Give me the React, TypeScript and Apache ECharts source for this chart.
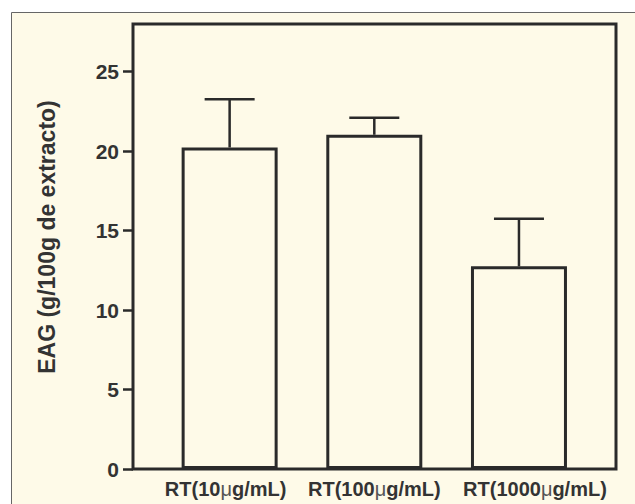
import React, { useEffect, useRef } from "react";
import * as echarts from "echarts";

const categories = ["RT(10μg/mL)", "RT(100μg/mL)", "RT(1000μg/mL)"];
const means = [20.23, 21.03, 12.75];
const sems = [3.04, 1.07, 2.99];
const yTicks = [0, 5, 10, 15, 20, 25];
const yName = "EAG (g/100g de extracto)";

const CREAM = "#fefae8";
const INK = "#2a2a2a";
const FONT = "'Liberation Sans', Arial, Helvetica, sans-serif";

export default function App() {
  const ref = useRef<HTMLDivElement>(null);
  useEffect(() => {
    if (!ref.current) return;
    const chart = echarts.init(ref.current, undefined, { renderer: "svg" });
    const labelPads = [
      [0, 8, 0, 0],
      [0, 0, 0, 0],
      [0, 0, 0, 32],
    ];
    chart.setOption({
      animation: false,
      backgroundColor: "#ffffff",
      graphic: [
        {
          type: "rect",
          z: -10,
          silent: true,
          shape: { x: 11.5, y: 12.5, width: 700, height: 600 },
          style: { fill: CREAM, stroke: "#666", lineWidth: 1 },
        },
        {
          type: "text",
          x: 47,
          y: 237,
          rotation: Math.PI / 2,
          style: {
            text: yName,
            fill: "#333",
            font: `bold 23px ${FONT}`,
            align: "center",
            verticalAlign: "middle",
          },
        },
      ],
      grid: [
        {
          left: 133,
          top: 24,
          right: 19,
          bottom: 35,
          show: true,
          borderColor: INK,
          borderWidth: 3,
          backgroundColor: "transparent",
        },
        { left: 157.3, top: 24, right: 43.7, bottom: 35 },
      ],
      xAxis: [
        { gridIndex: 0, type: "value", min: 0, max: 1, show: false },
        {
          gridIndex: 1,
          type: "category",
          data: categories.map((c, i) => ({
            value: c,
            textStyle: { padding: labelPads[i] },
          })),
          axisLine: { show: false },
          axisTick: { show: false },
          axisLabel: {
            interval: 0,
            hideOverlap: false,
            margin: 10,
            color: "#333",
            fontWeight: "bold",
            fontSize: 20,
            fontFamily: FONT,
            formatter: (v: string) => v.replace("μ", "{mu|μ}"),
            rich: {
              mu: {
                fontWeight: "normal",
                fontSize: 20,
                fontFamily: FONT,
                color: "#555",
              },
            },
          },
        },
      ],
      yAxis: [
        {
          gridIndex: 0,
          type: "value",
          min: 0,
          max: 28,
          interval: 5,
          splitLine: { show: false },
          axisLine: { show: false },
          axisTick: {
            show: true,
            length: 10,
            customValues: yTicks,
            lineStyle: { color: INK, width: 2.5 },
          },
          axisLabel: {
            margin: 14,
            customValues: yTicks,
            color: "#333",
            fontWeight: "bold",
            fontSize: 21,
            fontFamily: FONT,
          },
        },
        { gridIndex: 1, type: "value", min: 0, max: 28, show: false },
      ],
      series: [
        {
          type: "bar",
          xAxisIndex: 1,
          yAxisIndex: 1,
          data: means,
          barWidth: 96,
          itemStyle: { color: CREAM, borderColor: INK, borderWidth: 3 },
        },
        {
          type: "custom",
          xAxisIndex: 1,
          yAxisIndex: 1,
          encode: { x: 0, y: 1 },
          data: categories.map((_, i) => [i, means[i], means[i] + sems[i]]),
          renderItem: (params: any, api: any) => {
            const i = api.value(0);
            const base = api.coord([i, api.value(1)]);
            const top = api.coord([i, api.value(2)]);
            const hw = 25;
            const style = { stroke: INK, lineWidth: 2.5 };
            return {
              type: "group",
              children: [
                {
                  type: "line",
                  shape: { x1: base[0], y1: base[1], x2: top[0], y2: top[1] },
                  style,
                },
                {
                  type: "line",
                  shape: { x1: top[0] - hw, y1: top[1], x2: top[0] + hw, y2: top[1] },
                  style,
                },
              ],
            };
          },
          z: 3,
        },
      ],
    });
    return () => chart.dispose();
  }, []);
  return (
    <div
      ref={ref}
      style={{ position: "fixed", left: 0, top: 0, width: 635, height: 504 }}
    />
  );
}
